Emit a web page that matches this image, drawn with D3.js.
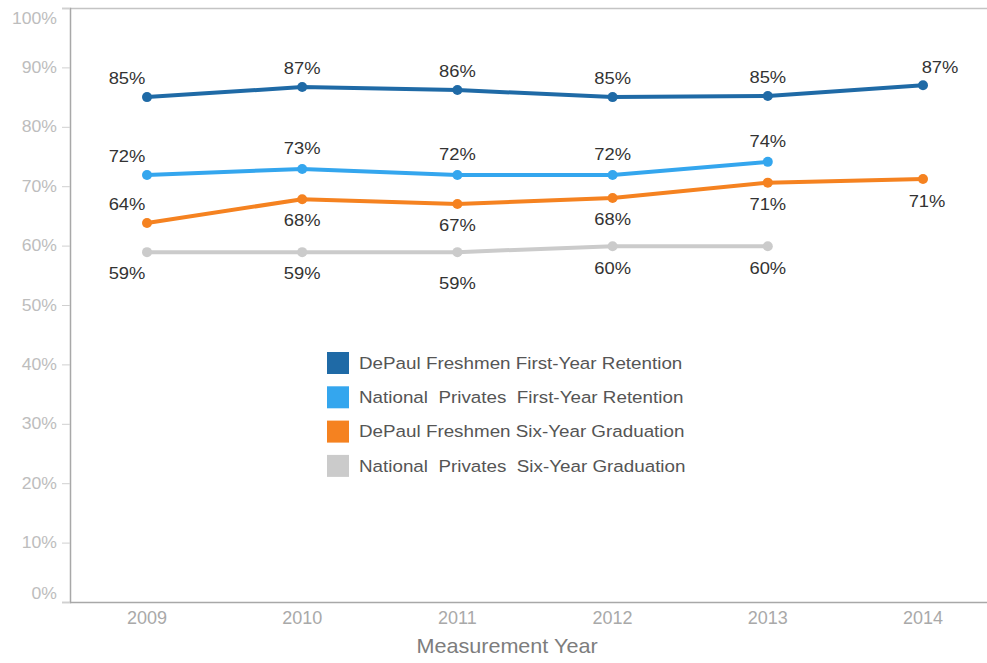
<!DOCTYPE html>
<html>
<head>
<meta charset="utf-8">
<script src="https://cdn.jsdelivr.net/npm/d3@7/dist/d3.min.js"></script>
<style>
  html, body { margin: 0; padding: 0; background: #fff; }
  svg { display: block; font-family: "Liberation Sans", Arial, sans-serif; }
</style>
</head>
<body>
<svg id="chart" width="987" height="663"></svg>
<script>
// ---- data ----
const years = ["2009", "2010", "2011", "2012", "2013", "2014"];
const yTicks = [0, 10, 20, 30, 40, 50, 60, 70, 80, 90, 100];
const seriesNames = [
  "DePaul Freshmen First-Year Retention",
  "National  Privates  First-Year Retention",
  "DePaul Freshmen Six-Year Graduation",
  "National  Privates  Six-Year Graduation"
];
const depaulRetention = [85.0, 86.7, 86.2, 85.0, 85.2, 87.0];
const nationalRetention = [71.9, 72.9, 71.9, 71.9, 74.1];
const depaulGraduation = [63.8, 67.8, 67.0, 68.0, 70.6, 71.2];
const nationalGraduation = [58.9, 58.9, 58.9, 59.9, 59.9];
const seriesColors = ["#1f6aa6", "#34a6ee", "#f58220", "#cbcbcb"];

(function () {
const svg = d3.select("#chart");
const mLeft = 70, mTop = 8, mBottom = 602;

const x = d3.scalePoint().domain(years).range([147, 923]);
const y = d3.scaleLinear().domain([0, 100]).range([mBottom, mTop]);

// horizontally stretched text helper
function stext(parent, px, py, str, opts) {
  const t = parent.append("text")
    .attr("transform", `translate(${px},${py}) scale(${opts.sx || 1},1)`)
    .attr("text-anchor", opts.anchor || "middle")
    .attr("dy", opts.dy || "0.35em")
    .attr("fill", opts.fill || "#333")
    .style("font-size", opts.size + "px")
    .text(str);
  if (opts.pre) t.style("white-space", "pre");
  return t;
}

// frame top
svg.append("line").attr("x1", mLeft).attr("x2", 987).attr("y1", mTop + 0.5).attr("y2", mTop + 0.5)
  .attr("stroke", "#c4c4c4").attr("stroke-width", 1.5);

// y axis
const yAxis = svg.append("g").attr("transform", `translate(${mLeft},0)`)
  .call(d3.axisLeft(y).tickValues(yTicks).tickFormat("").tickSize(8));
yAxis.select(".domain").attr("stroke", "#a8a8a8").attr("stroke-width", 1.5);
yAxis.selectAll(".tick line").attr("stroke", "#d0d0d0");
yAxis.selectAll(".tick text").remove();
yTicks.forEach(v => {
  const py = v === 100 ? y(v) + 10 : v === 0 ? y(v) - 9 : y(v);
  stext(svg, 57, py, v + "%", { anchor: "end", size: 16, sx: 1.1, fill: "#bdbdbd" });
});

// x axis
const xAxis = svg.append("g").attr("transform", `translate(0,${mBottom})`)
  .call(d3.axisBottom(x).tickSize(0).tickFormat(""));
xAxis.select(".domain").remove();
xAxis.selectAll(".tick text").remove();
svg.append("line").attr("x1", mLeft).attr("x2", 987).attr("y1", mBottom + 0.5).attr("y2", mBottom + 0.5)
  .attr("stroke", "#a8a8a8").attr("stroke-width", 1.5);
years.forEach(yr => {
  stext(svg, x(yr), 618, yr, { size: 17.5, sx: 1.03, fill: "#a9a9a9" });
});

stext(svg, 507, 646, "Measurement Year", { size: 20, sx: 1.08, fill: "#7d7d7d" });

// series
const allSeries = [depaulRetention, nationalRetention, depaulGraduation, nationalGraduation];
const line = d3.line().x((d, i) => x(years[i])).y(d => y(d));
const fmt = v => Math.round(v) + "%";

// label placement offsets relative to each point
const labelOffsets = [
  i => i === 0 ? [-20, -19] : i === 5 ? [17, -18] : [0, -19],
  i => i === 0 ? [-20, -19] : [0, -21],
  i => i === 0 ? [-20, -19] : i === 5 ? [4, 22] : [0, 21],
  i => i === 0 ? [-20, 21] : i === 2 ? [0, 31] : i >= 3 ? [0, 22] : [0, 21]
];

[3, 2, 1, 0].forEach(s => {
  const vals = allSeries[s];
  svg.append("path").datum(vals).attr("d", line)
    .attr("fill", "none").attr("stroke", seriesColors[s]).attr("stroke-width", 4)
    .attr("stroke-linejoin", "round");
  svg.selectAll(null).data(vals).enter().append("circle")
    .attr("cx", (d, i) => x(years[i])).attr("cy", d => y(d)).attr("r", 5)
    .attr("fill", seriesColors[s]);
});

allSeries.forEach((vals, s) => {
  vals.forEach((v, i) => {
    const o = labelOffsets[s](i);
    stext(svg, x(years[i]) + o[0], y(v) + o[1], fmt(v), { size: 17, sx: 1.08, fill: "#333" });
  });
});

// legend
const legend = svg.append("g").attr("transform", "translate(327,352)");
seriesNames.forEach((name, i) => {
  const g = legend.append("g").attr("transform", `translate(0,${i * 34.3})`);
  g.append("rect").attr("width", 22).attr("height", 22).attr("fill", seriesColors[i]);
  stext(g, 32, 11, name, { anchor: "start", size: 16.5, sx: 1.14, fill: "#555", pre: true });
});
})();
</script>
</body>
</html>
